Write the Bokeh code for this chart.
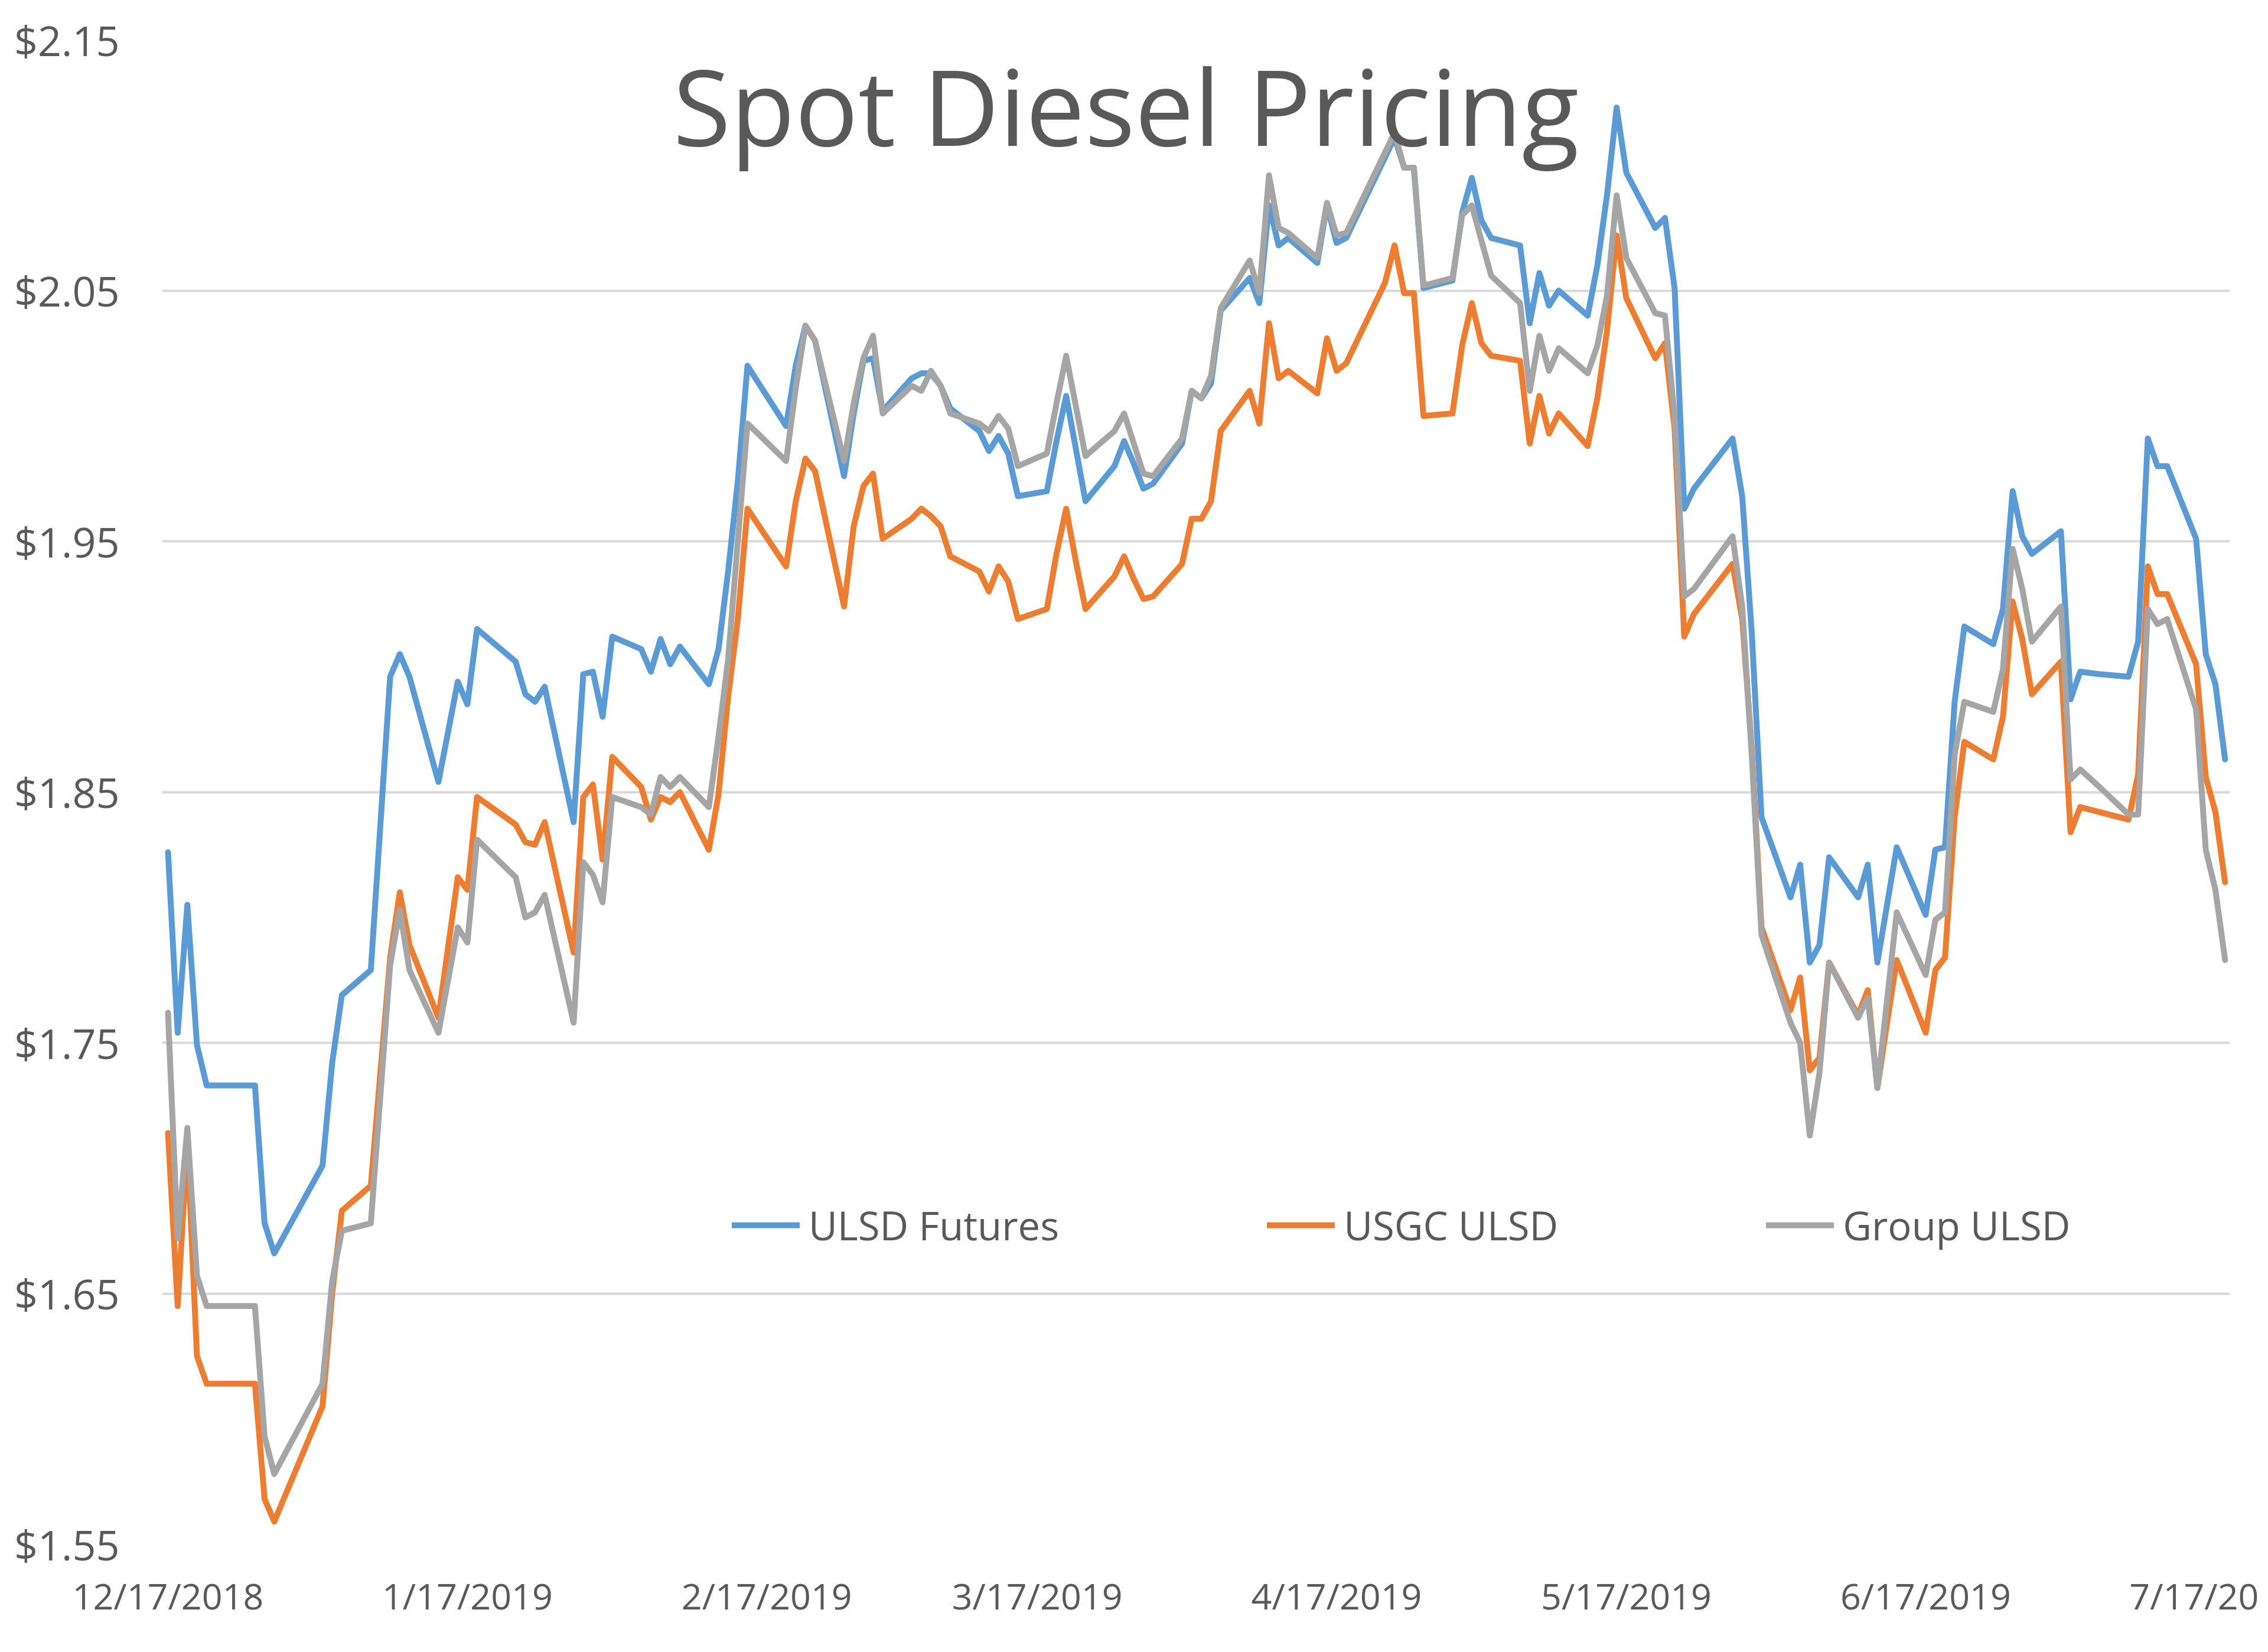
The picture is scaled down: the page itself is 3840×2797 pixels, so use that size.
import pandas as pd
from bokeh.plotting import figure
from bokeh.models import (Range1d, FixedTicker, NumeralTickFormatter, Label, Legend,
                          LegendItem, DatetimeTickFormatter)
from bokeh.embed import file_html
from bokeh.resources import INLINE

title_text = "Spot Diesel Pricing"
series_names = ["ULSD Futures", "USGC ULSD", "Group ULSD"]
series_colors = ["#5B9BD5", "#ED7D31", "#A5A5A5"]

dates = [
    # Dec 2018
    "2018-12-17", "2018-12-18", "2018-12-19", "2018-12-20", "2018-12-21", "2018-12-24", "2018-12-26",
    "2018-12-27", "2018-12-28",
    # Jan 2019
    "2019-01-02", "2019-01-03", "2019-01-04", "2019-01-07", "2019-01-09", "2019-01-10", "2019-01-11",
    "2019-01-14", "2019-01-16", "2019-01-17", "2019-01-18", "2019-01-22", "2019-01-23", "2019-01-24",
    "2019-01-25", "2019-01-28", "2019-01-29", "2019-01-30", "2019-01-31",
    # Feb
    "2019-02-01", "2019-02-04", "2019-02-05", "2019-02-06", "2019-02-07", "2019-02-08", "2019-02-11",
    "2019-02-12", "2019-02-13", "2019-02-14", "2019-02-15", "2019-02-19", "2019-02-20", "2019-02-21",
    "2019-02-22", "2019-02-25", "2019-02-26", "2019-02-27", "2019-02-28",
    # Mar
    "2019-03-01", "2019-03-04", "2019-03-05", "2019-03-06", "2019-03-07", "2019-03-08", "2019-03-11",
    "2019-03-12", "2019-03-13", "2019-03-14", "2019-03-15", "2019-03-18", "2019-03-19", "2019-03-20",
    "2019-03-21", "2019-03-22", "2019-03-25", "2019-03-26", "2019-03-27", "2019-03-28", "2019-03-29",
    # Apr
    "2019-04-01", "2019-04-02", "2019-04-03", "2019-04-04", "2019-04-05", "2019-04-08", "2019-04-09",
    "2019-04-10", "2019-04-11", "2019-04-12", "2019-04-15", "2019-04-16", "2019-04-17", "2019-04-18",
    "2019-04-22", "2019-04-23", "2019-04-24", "2019-04-25", "2019-04-26", "2019-04-29", "2019-04-30",
    # May
    "2019-05-01", "2019-05-02", "2019-05-03", "2019-05-06", "2019-05-07", "2019-05-08", "2019-05-09",
    "2019-05-10", "2019-05-13", "2019-05-14", "2019-05-15", "2019-05-16", "2019-05-17", "2019-05-20",
    "2019-05-21", "2019-05-22", "2019-05-23", "2019-05-24", "2019-05-28", "2019-05-29", "2019-05-30",
    "2019-05-31",
    # Jun
    "2019-06-03", "2019-06-04", "2019-06-05", "2019-06-06", "2019-06-07", "2019-06-10", "2019-06-11",
    "2019-06-12", "2019-06-13", "2019-06-14", "2019-06-17", "2019-06-18", "2019-06-19", "2019-06-20",
    "2019-06-21", "2019-06-24", "2019-06-25", "2019-06-26", "2019-06-27", "2019-06-28",
    # Jul
    "2019-07-01", "2019-07-02", "2019-07-03", "2019-07-05", "2019-07-08", "2019-07-09", "2019-07-10",
    "2019-07-11", "2019-07-12", "2019-07-15", "2019-07-16", "2019-07-17", "2019-07-18",
]

ulsd_futures = [
    1.826, 1.754, 1.805, 1.749, 1.733, 1.733, 1.733, 1.678, 1.666,
    1.701, 1.742, 1.769, 1.779, 1.896, 1.905, 1.896, 1.854, 1.894, 1.885, 1.915, 1.902, 1.889, 1.886,
    1.892, 1.838, 1.897, 1.898, 1.880,
    1.912, 1.907, 1.898, 1.911, 1.901, 1.908, 1.893, 1.907, 1.938, 1.974, 2.020, 1.996, 2.020, 2.036,
    2.030, 1.976, 2.001, 2.022, 2.023,
    2.002, 2.015, 2.017, 2.017, 2.012, 2.003, 1.994, 1.986, 1.992, 1.985, 1.968, 1.970, 1.990, 2.008,
    1.987, 1.966, 1.980, 1.990, 1.981, 1.971, 1.973,
    1.989, 2.010, 2.007, 2.013, 2.042, 2.055, 2.045, 2.084, 2.068, 2.071, 2.061, 2.084, 2.069, 2.071,
    2.103, 2.111, 2.099, 2.099, 2.051, 2.054, 2.081,
    2.095, 2.078, 2.071, 2.068, 2.037, 2.057, 2.044, 2.050, 2.040, 2.060, 2.088, 2.123, 2.097, 2.075,
    2.079, 2.051, 1.963, 1.971, 1.991, 1.968, 1.913, 1.840,
    1.808, 1.821, 1.782, 1.789, 1.824, 1.808, 1.821, 1.782, 1.805, 1.828, 1.801, 1.827, 1.828, 1.886,
    1.916, 1.909, 1.923, 1.970, 1.952, 1.945,
    1.954, 1.887, 1.898, 1.897, 1.896, 1.910, 1.991, 1.980, 1.980, 1.951, 1.905, 1.893, 1.863,
]

usgc_ulsd = [
    1.714, 1.645, 1.710, 1.625, 1.614, 1.614, 1.614, 1.568, 1.559,
    1.605, 1.650, 1.683, 1.693, 1.784, 1.810, 1.789, 1.760, 1.816, 1.811, 1.848, 1.837, 1.830, 1.829,
    1.838, 1.786, 1.848, 1.853, 1.823,
    1.864, 1.852, 1.839, 1.848, 1.846, 1.850, 1.827, 1.849, 1.888, 1.919, 1.963, 1.940, 1.966, 1.983,
    1.978, 1.924, 1.956, 1.972, 1.977,
    1.951, 1.959, 1.963, 1.960, 1.956, 1.944, 1.938, 1.930, 1.940, 1.934, 1.919, 1.923, 1.945, 1.963,
    1.942, 1.923, 1.936, 1.944, 1.935, 1.927, 1.928,
    1.941, 1.959, 1.959, 1.966, 1.994, 2.010, 1.997, 2.037, 2.015, 2.018, 2.009, 2.031, 2.018, 2.021,
    2.053, 2.068, 2.049, 2.049, 2.000, 2.001, 2.028,
    2.045, 2.029, 2.024, 2.022, 1.989, 2.008, 1.993, 2.001, 1.988, 2.007, 2.034, 2.072, 2.047, 2.023,
    2.029, 1.995, 1.912, 1.921, 1.941, 1.919, 1.867, 1.796,
    1.763, 1.776, 1.739, 1.744, 1.782, 1.761, 1.771, 1.732, 1.758, 1.783, 1.754, 1.779, 1.784, 1.840,
    1.870, 1.863, 1.880, 1.926, 1.911, 1.889,
    1.902, 1.834, 1.844, 1.842, 1.839, 1.857, 1.940, 1.929, 1.929, 1.901, 1.856, 1.842, 1.814,
]

group_ulsd = [
    1.762, 1.672, 1.716, 1.657, 1.645, 1.645, 1.645, 1.593, 1.578,
    1.614, 1.655, 1.675, 1.678, 1.781, 1.803, 1.779, 1.754, 1.796, 1.790, 1.831, 1.816, 1.800, 1.802,
    1.809, 1.758, 1.822, 1.817, 1.806,
    1.848, 1.844, 1.841, 1.856, 1.852, 1.856, 1.844, 1.872, 1.903, 1.950, 1.997, 1.982, 2.011, 2.036,
    2.030, 1.982, 2.005, 2.023, 2.032,
    2.001, 2.012, 2.010, 2.018, 2.012, 2.001, 1.997, 1.994, 2.000, 1.995, 1.980, 1.985, 2.005, 2.024,
    2.004, 1.984, 1.994, 2.001, 1.989, 1.977, 1.976,
    1.991, 2.010, 2.007, 2.016, 2.043, 2.062, 2.049, 2.096, 2.075, 2.073, 2.063, 2.085, 2.072, 2.073,
    2.105, 2.113, 2.099, 2.099, 2.052, 2.055, 2.080,
    2.084, 2.070, 2.056, 2.045, 2.010, 2.032, 2.018, 2.027, 2.017, 2.028, 2.048, 2.088, 2.063, 2.041,
    2.040, 2.000, 1.928, 1.931, 1.952, 1.924, 1.864, 1.793,
    1.758, 1.750, 1.713, 1.738, 1.782, 1.760, 1.768, 1.732, 1.767, 1.802, 1.777, 1.799, 1.802, 1.865,
    1.886, 1.882, 1.899, 1.947, 1.931, 1.910,
    1.924, 1.855, 1.859, 1.852, 1.841, 1.841, 1.923, 1.917, 1.919, 1.883, 1.827, 1.811, 1.783,
]

x_tick_dates = ["2018-12-17", "2019-01-17", "2019-02-17", "2019-03-17", "2019-04-17",
                "2019-05-17", "2019-06-17", "2019-07-17"]
# the last label is cut off by the chart's right edge in the original
x_tick_labels = ["12/17/2018", "1/17/2019", "2/17/2019", "3/17/2019", "4/17/2019",
                 "5/17/2019", "6/17/2019", "7/17/20"]
y_ticks = [1.55, 1.65, 1.75, 1.85, 1.95, 2.05, 2.15]

TEXT = "#595959"
FONT = "Open Sans"


def to_ms(s):
    return float(pd.Timestamp(s).value // 10**6)


x_ms = [to_ms(d) for d in dates]
day_ms = 86400000.0
x_start = to_ms("2018-12-17") - 0.61 * day_ms
x_end = to_ms("2018-12-17") + 213.5 * day_ms

W, H = 3824, 2781
p = figure(width=W, height=H, x_axis_type="datetime", output_backend="svg",
           toolbar_location=None, x_range=Range1d(x_start, x_end), y_range=Range1d(1.55, 2.15),
           min_border_left=274, min_border_right=49, min_border_top=67, min_border_bottom=167)
p.title.visible = False
p.outline_line_color = None
p.background_fill_color = "white"
p.border_fill_color = "white"

renderers = []
for vals, col in zip([ulsd_futures, usgc_ulsd, group_ulsd], series_colors):
    r = p.line(x_ms, vals, line_color=col, line_width=10, line_join="round", line_cap="round")
    renderers.append(r)

# axes
tick_ms = [to_ms(d) for d in x_tick_dates]
p.xaxis.ticker = FixedTicker(ticks=tick_ms)
p.xaxis.formatter = DatetimeTickFormatter(days="%m/%d/%Y", months="%m/%d/%Y")
p.xaxis.major_label_overrides = {t: lab for t, lab in zip(tick_ms, x_tick_labels)}
p.yaxis.ticker = FixedTicker(ticks=y_ticks)
p.yaxis.formatter = NumeralTickFormatter(format="$0.00")
for ax in (p.xaxis[0], p.yaxis[0]):
    ax.axis_line_color = None
    ax.major_tick_line_color = None
    ax.minor_tick_line_color = None
    ax.major_label_text_color = TEXT
    ax.major_label_text_font = FONT
p.xaxis.major_label_text_font_size = "61px"
p.xaxis.major_label_standoff = 39
p.yaxis.major_label_text_font_size = "70px"
p.yaxis.major_label_standoff = 66

p.xgrid.visible = False
p.ygrid.ticker = FixedTicker(ticks=y_ticks)
p.ygrid.grid_line_color = "#D9D9D9"
p.ygrid.grid_line_width = 4

# title drawn inside the plot area
title = Label(x=1632, y=2437, x_units="screen", y_units="screen", text=title_text,
              text_font=FONT, text_font_size="178px", text_color=TEXT,
              text_align="center", text_baseline="alphabetic")
p.add_layout(title)

legend = Legend(items=[LegendItem(label=n, renderers=[r]) for n, r in zip(series_names, renderers)],
                location=(965, 494), orientation="horizontal", spacing=352, glyph_width=115,
                glyph_height=40, label_standoff=15, padding=0, margin=0,
                border_line_alpha=0, background_fill_alpha=0,
                label_text_font_size="67px", label_text_color=TEXT, label_text_font=FONT)
p.add_layout(legend, "center")

open("out.html", "w").write(file_html(p, INLINE))
